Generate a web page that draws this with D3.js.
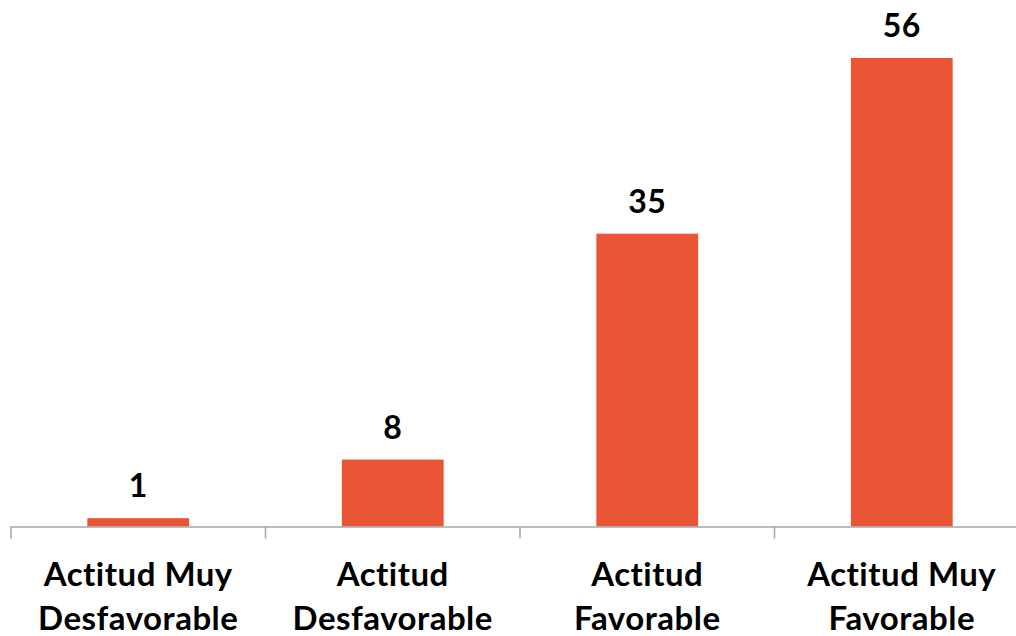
<!DOCTYPE html>
<html>
<head>
<meta charset="utf-8">
<script src="https://cdn.jsdelivr.net/npm/d3@7"></script>
<style>
  html, body { margin: 0; padding: 0; background: #ffffff; }
  svg { display: block; }
</style>
</head>
<body>
<svg id="chart" width="1016" height="636"></svg>
<script>
// Category labels (two lines each) and values
const categories = ["Actitud Muy Desfavorable", "Actitud Desfavorable", "Actitud Favorable", "Actitud Muy Favorable"];
const labelLines = [["Actitud Muy", "Desfavorable"], ["Actitud", "Desfavorable"], ["Actitud", "Favorable"], ["Actitud Muy", "Favorable"]];
const values = [1, 8, 35, 56];

const svg = d3.select("#chart");
const font = "Lato, 'Open Sans', sans-serif";
const baseY = 526.5;

const x = d3.scaleBand()
  .domain(categories)
  .range([11, 1029])
  .paddingInner(0.6)
  .paddingOuter(0.3);

const y = d3.scaleLinear()
  .domain([0, 56])
  .range([baseY, 58]);

// Bars
svg.append("g")
  .selectAll("rect")
  .data(categories)
  .join("rect")
  .attr("x", d => x(d))
  .attr("y", (d, i) => y(values[i]))
  .attr("width", x.bandwidth())
  .attr("height", (d, i) => baseY - y(values[i]))
  .attr("fill", "#E95535");

// Value labels
svg.append("g")
  .selectAll("text")
  .data(categories)
  .join("text")
  .attr("x", d => x(d) + x.bandwidth() / 2)
  .attr("y", (d, i) => y(values[i]) - 21)
  .attr("text-anchor", "middle")
  .attr("font-family", font)
  .attr("font-weight", 700)
  .attr("font-size", 32)
  .attr("letter-spacing", 0.5)
  .attr("fill", "#000")
  .text((d, i) => values[i]);

// Category axis: baseline with ticks between categories
const axis = svg.append("g").attr("stroke", "#A6A6A6").attr("stroke-width", 1.5);
const r = x.range();
axis.append("line")
  .attr("x1", r[0]).attr("x2", r[1])
  .attr("y1", baseY + 0.5).attr("y2", baseY + 0.5);
const boundaries = d3.range(categories.length + 1).map(i => r[0] + i * x.step());
axis.selectAll("line.tick")
  .data(boundaries)
  .join("line")
  .attr("class", "tick")
  .attr("x1", d => d).attr("x2", d => d)
  .attr("y1", baseY).attr("y2", baseY + 12);

// Two-line category labels
const lab = svg.append("g")
  .selectAll("text")
  .data(categories)
  .join("text")
  .attr("x", d => x(d) + x.bandwidth() / 2)
  .attr("y", 586)
  .attr("text-anchor", "middle")
  .attr("font-family", font)
  .attr("font-weight", 700)
  .attr("font-size", 33)
  .attr("letter-spacing", 0.5)
  .attr("fill", "#000");
lab.selectAll("tspan")
  .data((d, i) => labelLines[i])
  .join("tspan")
  .attr("x", function () { return this.parentNode.getAttribute("x"); })
  .attr("dy", (d, j) => j === 0 ? 0 : 44)
  .text(d => d);
</script>
</body>
</html>
